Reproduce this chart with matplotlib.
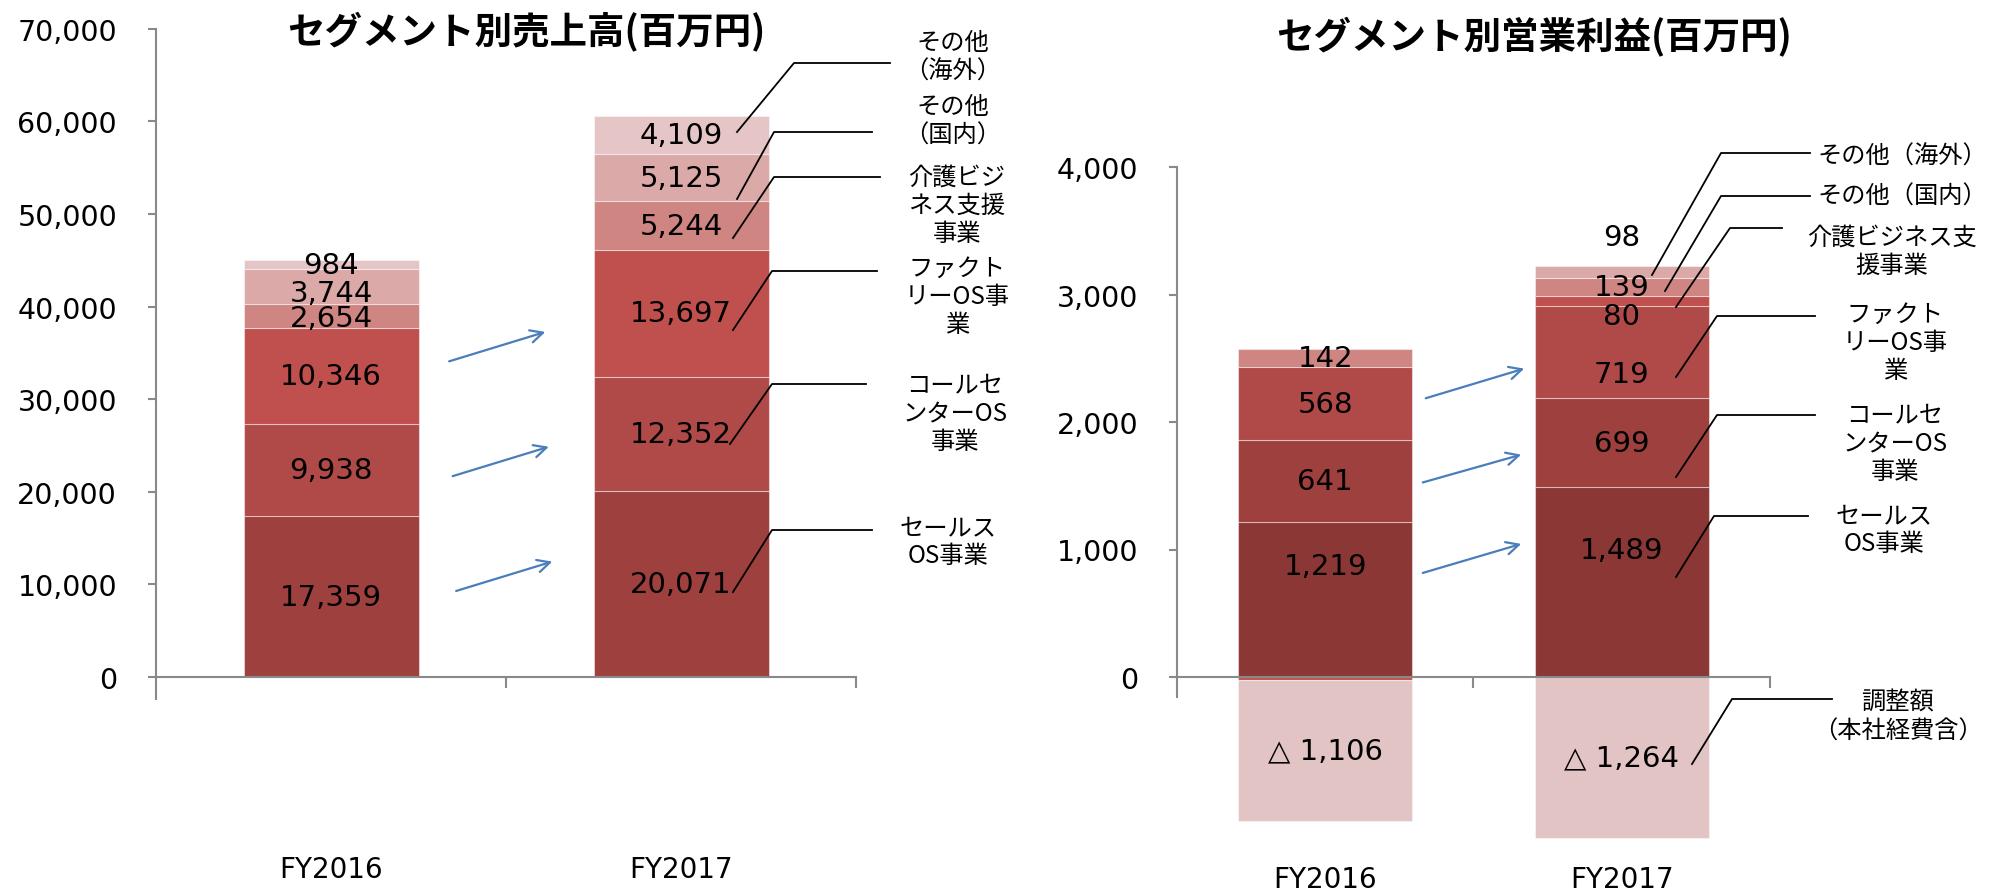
import matplotlib.pyplot as plt
from matplotlib.lines import Line2D

plt.rcParams['font.family'] = ['DejaVu Sans', 'Noto Sans CJK JP']
JP = ['Noto Sans CJK JP', 'DejaVu Sans']

W, H = 1990, 895

# データ(百万円)
years = ['FY2016', 'FY2017']

# 売上高
sales_os = [17359, 20071]
callcenter_os = [9938, 12352]
factory_os = [10346, 13697]
kaigo = [2654, 5244]
other_dom = [3744, 5125]
other_ovs = [984, 4109]

# 営業利益
op_sales_os = [1219, 1489]
op_callcenter_os = [641, 699]
op_factory_os = [568, 719]
op_kaigo = [-20, 80]
op_other_dom = [142, 139]
op_other_ovs = [0, 98]
op_adjust = [-1106, -1264]

seg_names_left = ['その他\n（海外）', 'その他\n（国内）', '介護ビジ\nネス支援\n事業',
                  'ファクト\nリーOS事\n業', 'コールセ\nンターOS\n事業', 'セールス\nOS事業']
seg_names_right = ['その他（海外）', 'その他（国内）', '介護ビジネス支\n援事業',
                   'ファクト\nリーOS事\n業', 'コールセ\nンターOS\n事業', 'セールス\nOS事業',
                   '調整額\n（本社経費含）']

left_colors = ['#9e403e', '#b04a48', '#c0504d', '#cf8582', '#dba9a8', '#e5c5c6']
right_colors = ['#8a3735', '#9e403e', '#b04a48', '#c0504d', '#cf8582', '#dba9a8', '#e3c4c5']

fig = plt.figure(figsize=(W / 100, H / 100), dpi=100)


def px_rect(x0, x1, y_top, y_bot):
    return [x0 / W, 1 - y_bot / H, (x1 - x0) / W, (y_bot - y_top) / H]


def fpt(x, y):
    return x / W, 1 - y / H


def setup_axis(ax, ylim, spine_lo, ticks, label_pad):
    ax.set_xlim(-0.5, 1.5)
    ax.set_ylim(*ylim)
    for s in ['top', 'right']:
        ax.spines[s].set_visible(False)
    ax.spines['left'].set_bounds(spine_lo, ticks[-1])
    ax.spines['bottom'].set_position(('data', 0))
    for s in ['left', 'bottom']:
        ax.spines[s].set_color('#898989')
        ax.spines[s].set_linewidth(1.5)
    ax.set_yticks(ticks)
    ax.set_yticklabels([f'{t:,}' for t in ticks], fontsize=20.5)
    ax.tick_params(axis='y', length=6, width=1.5, color='#898989', pad=22)
    ax.set_xticks([0, 1])
    ax.set_xticklabels(years, fontsize=20)
    ax.tick_params(axis='x', which='major', length=0, pad=label_pad)
    ax.set_xticks([0.5, 1.5], minor=True)
    ax.tick_params(axis='x', which='minor', length=8, width=1.5, color='#898989', direction='out')
    ax.patch.set_visible(False)


def stacked(ax, series, colors, width, offsets, skip_small):
    pos = [0.0, 0.0]
    neg = [0.0, 0.0]
    for k, (vals, c) in enumerate(zip(series, colors)):
        for i, v in enumerate(vals):
            if v == 0:
                continue
            base = pos[i] if v > 0 else neg[i]
            ax.bar(i, v, width, bottom=base, color=c, edgecolor=(1, 1, 1, 0.45), linewidth=0.8, zorder=2)
            if abs(v) >= skip_small:
                txt = f'{v:,}' if v > 0 else f'△ {abs(v):,}'
                ax.text(i, base + v / 2 + offsets.get((k, i), 0), txt, ha='center', va='center',
                        fontsize=21, zorder=4)
            if v > 0:
                pos[i] += v
            else:
                neg[i] += v


def leaders(lines):
    for pts in lines:
        xs = [p[0] / W for p in pts]
        ys = [1 - p[1] / H for p in pts]
        fig.add_artist(Line2D(xs, ys, color='black', lw=1.3, transform=fig.transFigure))


# ---- 左: 売上高 ----
axl = fig.add_axes(px_rect(156, 856, 29.8, 700.2))
setup_axis(axl, (-2400, 70000), -2400, list(range(0, 70001, 10000)), 128)
stacked(axl, [sales_os, callcenter_os, factory_os, kaigo, other_dom, other_ovs],
        left_colors, 0.5, {(4, 0): -750, (3, 0): -150}, 1)
for (x0, y0), (x1, y1) in [((0.33, 34000), (0.62, 37350)),
                           ((0.34, 21600), (0.63, 24950)),
                           ((0.35, 9200), (0.64, 12550))]:
    axl.annotate('', xy=(x1, y1), xytext=(x0, y0),
                 arrowprops=dict(arrowstyle='->,head_length=0.9,head_width=0.45', color='#4a7ebb', lw=1.6))

leaders([[(737, 133), (794, 64), (890, 64)],
         [(737, 200), (774, 133), (872, 133)],
         [(733, 239), (774, 178), (880, 178)],
         [(733, 331), (772, 272), (877, 272)],
         [(730, 445), (772, 385), (866, 385)],
         [(733, 593), (772, 531), (872, 531)]])
for name, (x, y) in zip(seg_names_left, [(953, 57), (953, 121), (957, 206), (957, 297), (955, 414), (948, 542)]):
    fig.text(*fpt(x, y), name, ha='center', va='center', fontsize=17.5, family=JP,
             linespacing=1.12, multialignment='center')

fig.text(*fpt(526, 32), 'セグメント別売上高(百万円)', ha='center', va='center',
         fontsize=27, fontweight='bold', family=JP)

# ---- 右: 営業利益 ----
axr = fig.add_axes(px_rect(1177, 1770, 168, 856.5))
setup_axis(axr, (-1400, 4000), -160, list(range(0, 4001, 1000)), 135)
stacked(axr, [op_sales_os, op_callcenter_os, op_factory_os, op_kaigo, op_other_dom, op_other_ovs, op_adjust],
        right_colors, 0.587,
        {(0, 0): 260, (0, 1): 250, (2, 1): -170, (3, 1): -116, (5, 1): 276}, 50)
for (x0, y0), (x1, y1) in [((0.33, 2180), (0.68, 2425)),
                           ((0.32, 1520), (0.67, 1750)),
                           ((0.32, 810), (0.67, 1050))]:
    axr.annotate('', xy=(x1, y1), xytext=(x0, y0),
                 arrowprops=dict(arrowstyle='->,head_length=0.9,head_width=0.45', color='#4a7ebb', lw=1.6))

leaders([[(1652, 276), (1721, 154), (1810, 154)],
         [(1665, 292), (1721, 197), (1810, 197)],
         [(1676, 308), (1730, 229), (1782, 229)],
         [(1676, 378), (1717, 317), (1815, 317)],
         [(1676, 478), (1717, 416), (1815, 416)],
         [(1676, 578), (1714, 517), (1808, 517)],
         [(1692, 765), (1732, 700), (1832, 700)]])
for name, (x, y) in zip(seg_names_right, [(1902, 157), (1902, 197), (1892, 252), (1895, 343),
                                          (1895, 444), (1884, 530), (1898, 717)]):
    fig.text(*fpt(x, y), name, ha='center', va='center', fontsize=17.5, family=JP,
             linespacing=1.12, multialignment='center')

fig.text(*fpt(1534, 37), 'セグメント別営業利益(百万円)', ha='center', va='center',
         fontsize=27, fontweight='bold', family=JP)

fig.savefig('out.png', dpi=100)
